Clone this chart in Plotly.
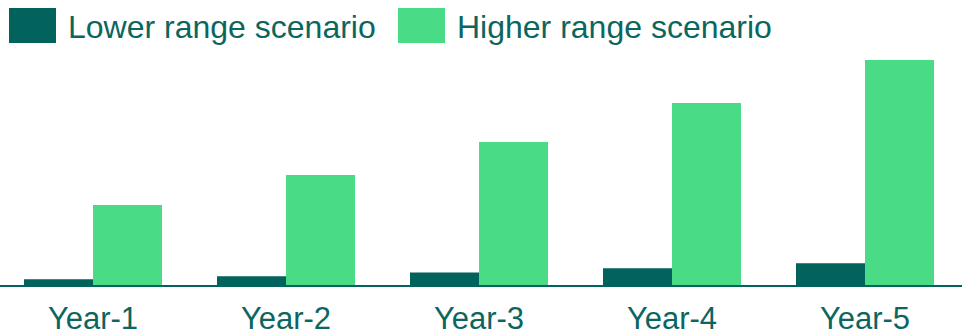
import plotly.graph_objects as go

# Data
years = ["Year-1", "Year-2", "Year-3", "Year-4", "Year-5"]
lower_range = [5.7, 8.7, 12.5, 16.7, 21.7]
higher_range = [80, 110, 143, 182, 225]
series_names = ["Lower range scenario", "Higher range scenario"]

DARK = "#02625C"
LIGHT = "#4ADB87"
TEXT = "#0B6660"
FONT = "Liberation Sans, Arial, sans-serif"

W, H = 962, 331
M_T, M_B = 60, 46
PLOT_H = H - M_T - M_B


def py(pixel_y):
    """Convert a pixel row from the top of the page to paper y."""
    return (H - M_B - pixel_y) / PLOT_H


def px(pixel_x):
    return pixel_x / W


fig = go.Figure()
fig.add_trace(go.Bar(x=years, y=lower_range, name=series_names[0],
                     marker=dict(color=DARK, line=dict(width=0))))
fig.add_trace(go.Bar(x=years, y=higher_range, name=series_names[1],
                     marker=dict(color=LIGHT, line=dict(width=0))))

# Custom legend with large swatches
legend_items = [(9, 56, 66, DARK, series_names[0]),
                (398, 445, 455, LIGHT, series_names[1])]
for x0, x1, tx, color, label in legend_items:
    fig.add_shape(type="rect", xref="paper", yref="paper",
                  x0=px(x0), x1=px(x1), y0=py(43), y1=py(8),
                  fillcolor=color, line=dict(width=0), layer="above")
    fig.add_annotation(xref="paper", yref="paper", x=px(tx), y=py(26.5),
                       xanchor="left", yanchor="middle", showarrow=False,
                       text=label, font=dict(family=FONT, size=32, color=TEXT))

fig.update_layout(
    width=W, height=H,
    margin=dict(l=0, r=0, t=M_T, b=M_B, pad=0, autoexpand=False),
    barmode="group", bargap=0.285, bargroupgap=0,
    showlegend=False,
    plot_bgcolor="white", paper_bgcolor="white",
    font=dict(family=FONT, color=TEXT),
)
fig.update_xaxes(
    range=[-93 / 193, -93 / 193 + W / 193],
    showline=True, linecolor=DARK, linewidth=1.5,
    showgrid=False, zeroline=False, ticks="",
    automargin=False, ticklabelstandoff=5,
    tickfont=dict(family=FONT, size=31, color=TEXT),
)
fig.update_yaxes(range=[0, PLOT_H], visible=False, showgrid=False)

fig.write_html("out.html")
